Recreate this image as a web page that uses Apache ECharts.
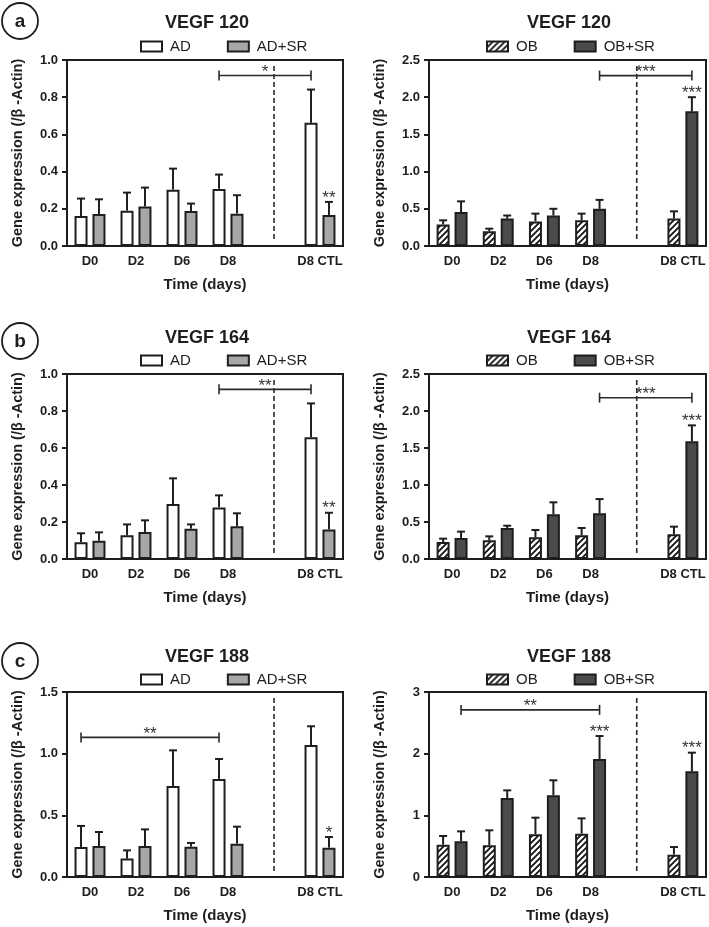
<!DOCTYPE html>
<html><head><meta charset="utf-8">
<script src="https://cdn.jsdelivr.net/npm/echarts/dist/echarts.min.js"></script>
<style>html,body{margin:0;padding:0;background:#fff}#c{width:709px;height:927px}</style>
</head><body><div id="c"></div>
<script>
// ---------- DATA ----------
const categories = ['D0', 'D2', 'D6', 'D8', '', 'D8 CTL'];

// VEGF 120
const ad120 = [0.161, 0.19, 0.303, 0.307, null, 0.662];
const ad120Err = [0.255, 0.287, 0.416, 0.384, null, 0.841];
const adsr120 = [0.172, 0.213, 0.188, 0.174, null, 0.167];
const adsr120Err = [0.251, 0.314, 0.228, 0.273, null, 0.237];
const ob120 = [0.29, 0.197, 0.33, 0.345, null, 0.37];
const ob120Err = [0.345, 0.233, 0.435, 0.435, null, 0.466];
const obsr120 = [0.457, 0.368, 0.41, 0.50, null, 1.81];
const obsr120Err = [0.60, 0.41, 0.50, 0.62, null, 2.0];

// VEGF 164
const ad164 = [0.09, 0.128, 0.297, 0.279, null, 0.658];
const ad164Err = [0.139, 0.187, 0.436, 0.344, null, 0.841];
const adsr164 = [0.099, 0.146, 0.164, 0.177, null, 0.16];
const adsr164Err = [0.144, 0.209, 0.187, 0.247, null, 0.25];
const ob164 = [0.23, 0.252, 0.293, 0.32, null, 0.333];
const ob164Err = [0.275, 0.306, 0.392, 0.419, null, 0.437];
const obsr164 = [0.284, 0.419, 0.604, 0.617, null, 1.59];
const obsr164Err = [0.37, 0.45, 0.766, 0.81, null, 1.806];

// VEGF 188
const ad188 = [0.243, 0.149, 0.738, 0.795, null, 1.07];
const ad188Err = [0.414, 0.216, 1.027, 0.957, null, 1.222];
const adsr188 = [0.251, 0.251, 0.246, 0.27, null, 0.238];
const adsr188Err = [0.365, 0.386, 0.276, 0.408, null, 0.324];
const ob188 = [0.524, 0.514, 0.692, 0.703, null, 0.362];
const ob188Err = [0.665, 0.757, 0.962, 0.951, null, 0.486];
const obsr188 = [0.578, 1.28, 1.324, 1.914, null, 1.714];
const obsr188Err = [0.74, 1.405, 1.568, 2.286, null, 2.016];

// y axis scales [max, interval, decimals]
const yScaleA1 = [1.0, 0.2, 1], yScaleA2 = [2.5, 0.5, 1];
const yScaleB1 = [1.0, 0.2, 1], yScaleB2 = [2.5, 0.5, 1];
const yScaleC1 = [1.5, 0.5, 1], yScaleC2 = [3, 1, 0];

// significance brackets: [cat1, group1, cat2, group2, y], with labels
const bracketsA1 = [[3, 0, 5, 0, 0.917]], bracketLabelsA1 = ['*'];
const bracketsA2 = [[3, 1, 5, 1, 2.29]], bracketLabelsA2 = ['***'];
const bracketsB1 = [[3, 0, 5, 0, 0.917]], bracketLabelsB1 = ['**'];
const bracketsB2 = [[3, 1, 5, 1, 2.18]], bracketLabelsB2 = ['***'];
const bracketsC1 = [[0, 0, 3, 0, 1.132]], bracketLabelsC1 = ['**'];
const bracketsC2 = [[0, 1, 3, 1, 2.71]], bracketLabelsC2 = ['**'];

// stars above bars: [cat, group], with labels
const starsA1 = [[5, 1]], starLabelsA1 = ['**'];
const starsA2 = [[5, 1]], starLabelsA2 = ['***'];
const starsB1 = [[5, 1]], starLabelsB1 = ['**'];
const starsB2 = [[5, 1]], starLabelsB2 = ['***'];
const starsC1 = [[5, 1]], starLabelsC1 = ['*'];
const starsC2 = [[3, 1], [5, 1]], starLabelsC2 = ['***', '***'];

// ---------- STYLE / LAYOUT ----------
const FONT = '"Liberation Sans", Arial, Helvetica, sans-serif';
const INK = '#1e1e1e';
const BAR_W = 13, BAR_GAP = 0.38;
const OFF = (BAR_W * 2 + BAR_W * BAR_GAP) / 2 - BAR_W / 2;

function makeHatch() {
  const c = document.createElement('canvas');
  c.width = 6; c.height = 6;
  const g = c.getContext('2d');
  g.fillStyle = '#fff'; g.fillRect(0, 0, 6, 6);
  g.strokeStyle = '#111'; g.lineWidth = 1.8;
  g.beginPath();
  g.moveTo(-1, 7); g.lineTo(7, -1);
  g.moveTo(-4, 4); g.lineTo(4, -4);
  g.moveTo(2, 10); g.lineTo(10, 2);
  g.stroke();
  return c;
}
const fills = {
  'AD': '#ffffff',
  'AD+SR': '#a7a7a7',
  'OB': { image: makeHatch(), repeat: 'repeat' },
  'OB+SR': '#4b4b4b'
};

const panels = [
  { tag: 'a', title: 'VEGF 120', names: ['AD', 'AD+SR'], v: [ad120, adsr120], e: [ad120Err, adsr120Err], ys: yScaleA1, br: bracketsA1, brL: bracketLabelsA1, st: starsA1, stL: starLabelsA1, col: 0, row: 0 },
  { tag: null, title: 'VEGF 120', names: ['OB', 'OB+SR'], v: [ob120, obsr120], e: [ob120Err, obsr120Err], ys: yScaleA2, br: bracketsA2, brL: bracketLabelsA2, st: starsA2, stL: starLabelsA2, col: 1, row: 0 },
  { tag: 'b', title: 'VEGF 164', names: ['AD', 'AD+SR'], v: [ad164, adsr164], e: [ad164Err, adsr164Err], ys: yScaleB1, br: bracketsB1, brL: bracketLabelsB1, st: starsB1, stL: starLabelsB1, col: 0, row: 1 },
  { tag: null, title: 'VEGF 164', names: ['OB', 'OB+SR'], v: [ob164, obsr164], e: [ob164Err, obsr164Err], ys: yScaleB2, br: bracketsB2, brL: bracketLabelsB2, st: starsB2, stL: starLabelsB2, col: 1, row: 1 },
  { tag: 'c', title: 'VEGF 188', names: ['AD', 'AD+SR'], v: [ad188, adsr188], e: [ad188Err, adsr188Err], ys: yScaleC1, br: bracketsC1, brL: bracketLabelsC1, st: starsC1, stL: starLabelsC1, col: 0, row: 2 },
  { tag: null, title: 'VEGF 188', names: ['OB', 'OB+SR'], v: [ob188, obsr188], e: [ob188Err, obsr188Err], ys: yScaleC2, br: bracketsC2, brL: bracketLabelsC2, st: starsC2, stL: starLabelsC2, col: 1, row: 2 }
];

const colLeft = [67, 429], colWidth = [276, 277];
const rowTop = [60, 374, 692], rowHeight = [186, 185, 185];
const titleY = [23, 338, 657], titleX = [207, 569];
const legendCY = [48, 362, 681], legendX = [140, 486];
const tagCY = [21, 341, 661];

const option = {
  backgroundColor: '#fff',
  animation: false,
  grid: [], xAxis: [], yAxis: [], series: [], legend: [], graphic: []
};

panels.forEach((p, i) => {
  const L = colLeft[p.col], T = rowTop[p.row], W = colWidth[p.col], H = rowHeight[p.row];
  option.grid.push({ left: L, top: T, width: W, height: H, show: true, borderColor: INK, borderWidth: 2, backgroundColor: 'transparent', containLabel: false, outerBoundsMode: 'none' });
  option.xAxis.push({
    type: 'category', gridIndex: i, data: categories,
    axisLine: { lineStyle: { color: INK, width: 2 } },
    axisTick: { alignWithLabel: true, interval: 0, length: 5, lineStyle: { color: INK, width: 2 } },
    axisLabel: { interval: 0, color: INK, fontWeight: 'bold', fontSize: 13, fontFamily: FONT, margin: 9 },
    name: 'Time (days)', nameLocation: 'middle', nameGap: 31,
    nameTextStyle: { color: INK, fontWeight: 'bold', fontSize: 15, fontFamily: FONT },
    splitLine: { show: false }
  });
  const [mx, step, dec] = p.ys;
  option.yAxis.push({
    type: 'value', gridIndex: i, min: 0, max: mx, interval: step,
    axisLine: { show: true, lineStyle: { color: INK, width: 2 } },
    axisTick: { show: true, length: 5, lineStyle: { color: INK, width: 2 } },
    axisLabel: { color: INK, fontWeight: 'bold', fontSize: 13, fontFamily: FONT, margin: 9, formatter: v => v.toFixed(dec) },
    splitLine: { show: false },
    name: 'Gene expression (/\u03B2 -Actin)', nameLocation: 'middle', nameGap: 42,
    nameTextStyle: { color: INK, fontWeight: 'bold', fontSize: 14.5, fontFamily: FONT }
  });
  // bars
  p.names.forEach((nm, g) => {
    option.series.push({
      type: 'bar', name: nm, xAxisIndex: i, yAxisIndex: i,
      data: p.v[g], barWidth: BAR_W, barGap: (BAR_GAP * 100) + '%',
      itemStyle: { color: fills[nm], borderColor: INK, borderWidth: 2 },
      emphasis: { disabled: true }, silent: true, z: 2
    });
  });
  // error bars
  const errData = [];
  [0, 1].forEach(g => p.v[g].forEach((m, c) => { if (m != null) errData.push([c, m, p.e[g][c], g]); }));
  option.series.push({
    type: 'custom', name: 'err' + i, xAxisIndex: i, yAxisIndex: i, silent: true, z: 3,
    encode: { x: 0, y: [1, 2] }, data: errData,
    renderItem: (params, api) => {
      const c = api.value(0), g = api.value(3);
      const p0 = api.coord([c, api.value(1)]), p1 = api.coord([c, api.value(2)]);
      const x = p0[0] + (g ? OFF : -OFF);
      const st = { stroke: INK, lineWidth: 2 };
      return { type: 'group', children: [
        { type: 'line', shape: { x1: x, y1: p0[1], x2: x, y2: p1[1] }, style: st },
        { type: 'line', shape: { x1: x - 4, y1: p1[1], x2: x + 4, y2: p1[1] }, style: st }
      ] };
    }
  });
  // dashed divider at empty category
  option.series.push({
    type: 'custom', name: 'div' + i, xAxisIndex: i, yAxisIndex: i, silent: true, z: 3,
    encode: { x: 0, y: 1 }, data: [[4, 0]],
    renderItem: (params, api) => {
      const cs = params.coordSys;
      const x = api.coord([api.value(0), 0])[0];
      return { type: 'line', shape: { x1: x, y1: cs.y + 6, x2: x, y2: cs.y + cs.height - 6 }, style: { stroke: '#2a2a2a', lineWidth: 1.6, lineDash: [5, 3] } };
    }
  });
  // brackets
  option.series.push({
    type: 'custom', name: 'br' + i, xAxisIndex: i, yAxisIndex: i, silent: true, z: 4,
    encode: { x: 0, y: 4 }, data: p.br,
    renderItem: (params, api) => {
      const y = api.value(4);
      const a = api.coord([api.value(0), y]), b = api.coord([api.value(2), y]);
      const x1 = a[0] + (api.value(1) ? OFF : -OFF), x2 = b[0] + (api.value(3) ? OFF : -OFF);
      const yy = a[1];
      const st = { stroke: '#2a2a2a', lineWidth: 1.6 };
      return { type: 'group', children: [
        { type: 'line', shape: { x1: x1, y1: yy, x2: x2, y2: yy }, style: st },
        { type: 'line', shape: { x1: x1, y1: yy - 5, x2: x1, y2: yy + 5 }, style: st },
        { type: 'line', shape: { x1: x2, y1: yy - 5, x2: x2, y2: yy + 5 }, style: st },
        { type: 'text', style: { x: (x1 + x2) / 2, y: yy + 5, text: p.brL[params.dataIndex], textAlign: 'center', textVerticalAlign: 'bottom', fill: '#333', font: '17px ' + FONT } }
      ] };
    }
  });
  // stars above bars
  option.series.push({
    type: 'custom', name: 'st' + i, xAxisIndex: i, yAxisIndex: i, silent: true, z: 4,
    encode: { x: 0, y: 2 }, data: p.st.map(s => [s[0], s[1], p.e[s[1]][s[0]]]),
    renderItem: (params, api) => {
      const pt = api.coord([api.value(0), api.value(2)]);
      const x = pt[0] + (api.value(1) ? OFF : -OFF);
      return { type: 'text', style: { x: x, y: pt[1] + 4.5, text: p.stL[params.dataIndex], textAlign: 'center', textVerticalAlign: 'bottom', fill: '#333', font: '17px ' + FONT } };
    }
  });
  // legend
  option.legend.push({
    left: legendX[p.col], top: legendCY[p.row] - 9, padding: 0, orient: 'horizontal',
    data: p.names, itemWidth: 21, itemHeight: 10, itemGap: 36, icon: 'rect',
    itemStyle: { borderColor: INK, borderWidth: 2 },
    textStyle: { color: INK, fontSize: 15, fontFamily: FONT, padding: [0, 0, 0, 3] },
    selectedMode: false
  });
  // title
  option.graphic.push({ type: 'text', x: titleX[p.col], y: titleY[p.row], silent: true,
    style: { text: p.title, textAlign: 'center', textVerticalAlign: 'middle', fill: INK, font: 'bold 18px ' + FONT } });
  if (p.tag) {
    option.graphic.push({ type: 'circle', shape: { cx: 20, cy: tagCY[p.row], r: 18 }, silent: true, style: { fill: 'none', stroke: INK, lineWidth: 1.8 } });
    option.graphic.push({ type: 'text', x: 20, y: tagCY[p.row] + 1, silent: true,
      style: { text: p.tag, textAlign: 'center', textVerticalAlign: 'middle', fill: INK, font: 'bold 19px ' + FONT } });
  }
});

const chart = echarts.init(document.getElementById('c'), null, { renderer: 'canvas', width: 709, height: 927 });
chart.setOption(option);
</script>
</body></html>
